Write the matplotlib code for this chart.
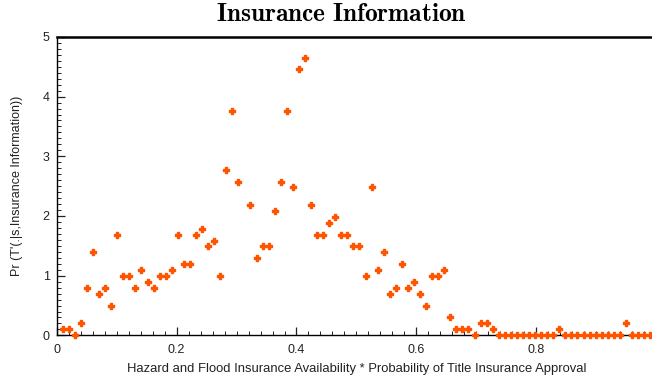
import numpy as np
import matplotlib
matplotlib.use('Agg')
import matplotlib.pyplot as plt
from matplotlib.patches import Rectangle
from matplotlib.ticker import MultipleLocator, FixedLocator, FuncFormatter

plt.rcParams['font.family'] = ['Liberation Sans', 'DejaVu Sans']
plt.rcParams['mathtext.fontset'] = 'cm'

# bins of width 1/99, bin index 1..98
bin_index = np.arange(1, 99)
x_vals = bin_index / 99.0

# estimated density in each bin
density = [
    0.10, 0.10, 0.00, 0.20, 0.79, 1.39, 0.69, 0.79, 0.50, 1.68,
    0.99, 0.99, 0.79, 1.09, 0.89, 0.79, 0.99, 0.99, 1.09, 1.68,
    1.19, 1.19, 1.68, 1.78, 1.49, 1.58, 0.99, 2.77, 3.76, 2.57,
    5.35, 2.18, 1.29, 1.49, 1.49, 2.08, 2.57, 3.76, 2.48, 4.46,
    4.65, 2.18, 1.68, 1.68, 1.88, 1.98, 1.68, 1.68, 1.49, 1.49,
    0.99, 2.48, 1.09, 1.39, 0.69, 0.79, 1.19, 0.79, 0.89, 0.69,
    0.50, 0.99, 0.99, 1.09, 0.30, 0.10, 0.10, 0.10, 0.00, 0.20,
    0.20, 0.10, 0.00, 0.00, 0.00, 0.00, 0.00, 0.00, 0.00, 0.00,
    0.00, 0.00, 0.10, 0.00, 0.00, 0.00, 0.00, 0.00, 0.00, 0.00,
    0.00, 0.00, 0.00, 0.20, 0.00, 0.00, 0.00, 0.00,
]

x_ticks = [0, 0.2, 0.4, 0.6, 0.8]
y_ticks = [0, 1, 2, 3, 4, 5]

x_label = 'Hazard and Flood Insurance Availability * Probability of Title Insurance Approval'
y_label = "Pr (T'(.|s,Insurance Information))"

W, H = 652, 381
fig = plt.figure(figsize=(W / 100, H / 100), dpi=100)
# axes run past the right edge of the figure
ax = fig.add_axes([56.7 / W, (H - 335.4) / H, 599.5 / W, 298.5 / H])

pts = ax.scatter(x_vals, density, marker='P', s=20, color='#ff5500',
                 edgecolors='#ff5500', linewidths=1.0, zorder=3)
# let markers on the zero line show below the axis, but not above the top
clip = Rectangle((0, -0.08), 1.0, 1.08, transform=ax.transAxes)
pts.set_clip_path(clip)

ax.set_xlim(0, 1)
ax.set_ylim(0, 5)

ax.xaxis.set_major_locator(FixedLocator(x_ticks))
ax.xaxis.set_minor_locator(MultipleLocator(0.02))
ax.yaxis.set_major_locator(FixedLocator(y_ticks))
ax.yaxis.set_minor_locator(MultipleLocator(0.1))

fmt = FuncFormatter(lambda v, p: '0' if abs(v) < 1e-9 else ('%g' % v))
ax.xaxis.set_major_formatter(fmt)
ax.yaxis.set_major_formatter(fmt)

ax.tick_params(which='both', direction='in', top=False, right=False,
               labelsize=9, colors='#222222')
ax.tick_params(which='major', length=6, width=0.9)
ax.tick_params(which='minor', length=3, width=0.7)
ax.tick_params(axis='x', pad=6)
ax.tick_params(axis='y', pad=5)

for side in ['left', 'bottom', 'top']:
    ax.spines[side].set_color('black')
ax.spines['left'].set_linewidth(1.0)
ax.spines['bottom'].set_linewidth(1.0)
ax.spines['top'].set_linewidth(1.8)
ax.spines['right'].set_visible(False)

ax.set_xlabel(x_label, fontsize=9.4, color='#222222', labelpad=5)
fig.text(17 / W, (H - 186) / H, y_label, rotation=90, fontsize=9,
         color='#222222', ha='center', va='center')

fig.text(341.7 / W, (H - 14) / H, r'$\mathbf{Insurance\ Information}$',
         fontsize=18.3, ha='center', va='center')

plt.savefig('out.png', dpi=100)
